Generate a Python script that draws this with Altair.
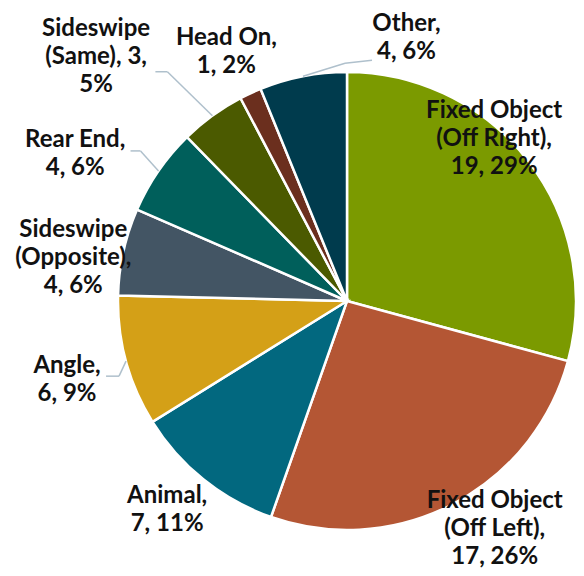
import altair as alt
import pandas as pd

# ---- data ----
categories = ["Fixed Object (Off Right)", "Fixed Object (Off Left)", "Animal", "Angle",
              "Sideswipe (Opposite)", "Rear End", "Sideswipe (Same)", "Head On", "Other"]
values = [19, 17, 7, 6, 4, 4, 3, 1, 4]
label_names = ["Fixed Object\n(Off Right)", "Fixed Object\n(Off Left)", "Animal", "Angle",
               "Sideswipe\n(Opposite)", "Rear End", "Sideswipe\n(Same)", "Head On", "Other"]
label_templates = ["{n},\n{v}, {p}%", "{n},\n{v}, {p}%", "{n},\n{v}, {p}%", "{n},\n{v}, {p}%",
                   "{n},\n{v}, {p}%", "{n},\n{v}, {p}%", "{n}, {v},\n{p}%", "{n},\n{v}, {p}%",
                   "{n},\n{v}, {p}%"]
colors = ["#7B9A00", "#B45634", "#02687F", "#D4A017", "#435564",
          "#005F5B", "#4B5A00", "#6B2F1E", "#003B4D"]

# ---- layout (label placement relative to slice middle) ----
label_dang = [-10.4, -5.2, 1.9, -0.6, -3.6, -6.2, -9.8, -0.9, 23.8]   # degrees
label_r = [219, 272, 276, 291, 277, 309, 350, 277, 270]
# leader lines: elbow and end offsets from the slice edge point (0 = none)
lead_elbow_dx = [0, 0, 0, -7, 0, -18, -45, 0, 42]
lead_elbow_dy = [0, 0, 0, 15, 0, -20, -44, 0, -13]
lead_end_dx = [0, 0, 0, -20, 0, -28, -57, 0, 69]
lead_end_dy = [0, 0, 0, 15, 0, -20, -44, 0, -16]

W, H = 568, 560
CX, CY, R = 339, 293, 229
LINE_H = 28

total = sum(values)
labels = [t.format(n=n, v=v, p=round(v / total * 100))
          for t, n, v in zip(label_templates, label_names, values)]

df = pd.DataFrame({
    "category": categories,
    "value": values,
    "order": list(range(len(values))),
    "label": labels,
    "label_dang": label_dang,
    "label_r": label_r,
    "edx": lead_elbow_dx, "edy": lead_elbow_dy,
    "ndx": lead_end_dx, "ndy": lead_end_dy,
})

base = alt.Chart(df)

arc = base.mark_arc(outerRadius=R, stroke="white", strokeWidth=2.5).encode(
    theta=alt.Theta("value:Q", stack=True),
    order=alt.Order("order:Q"),
    color=alt.Color("category:N", scale=alt.Scale(domain=categories, range=colors), legend=None),
    x=alt.value(CX),
    y=alt.value(CY),
)

geo = base.transform_window(
    cum="sum(value)", sort=[alt.SortField("order")], frame=[None, 0]
).transform_joinaggregate(
    total="sum(value)"
).transform_calculate(
    mid="(datum.cum - datum.value / 2) / datum.total * 2 * PI",
    la="datum.mid + datum.label_dang * PI / 180",
    nlines="length(split(datum.label, '\\n'))",
    lx=f"{CX} + datum.label_r * sin(datum.la)",
    ly=f"{CY} - datum.label_r * cos(datum.la) - (datum.nlines - 1) * {LINE_H} / 2",
    ex=f"{CX} + {R} * sin(datum.mid)",
    ey=f"{CY} - {R} * cos(datum.mid)",
    bx="datum.ex + datum.edx",
    by="datum.ey + datum.edy",
    nx="datum.ex + datum.ndx",
    ny="datum.ey + datum.ndy",
)

text = geo.mark_text(
    font="Lato", fontSize=24, fontWeight="bold", lineBreak="\n", lineHeight=LINE_H,
    align="center", baseline="middle", color="#111111"
).encode(
    x=alt.X("lx:Q", scale=None, axis=None),
    y=alt.Y("ly:Q", scale=None, axis=None),
    text="label:N",
)

leads = geo.transform_filter("datum.ndx != 0 || datum.ndy != 0")
lead1 = leads.mark_rule(color="#AFC0CC", strokeWidth=1.5).encode(
    x=alt.X("ex:Q", scale=None, axis=None), y=alt.Y("ey:Q", scale=None, axis=None),
    x2="bx:Q", y2="by:Q",
)
lead2 = leads.mark_rule(color="#AFC0CC", strokeWidth=1.5).encode(
    x=alt.X("bx:Q", scale=None, axis=None), y=alt.Y("by:Q", scale=None, axis=None),
    x2="nx:Q", y2="ny:Q",
)

chart = alt.layer(arc, lead1, lead2, text).properties(
    width=W, height=H, padding=0, autosize="none", background="white"
).configure_view(stroke=None)

chart.save("out.html", embed_options={"renderer": "svg", "actions": False})
